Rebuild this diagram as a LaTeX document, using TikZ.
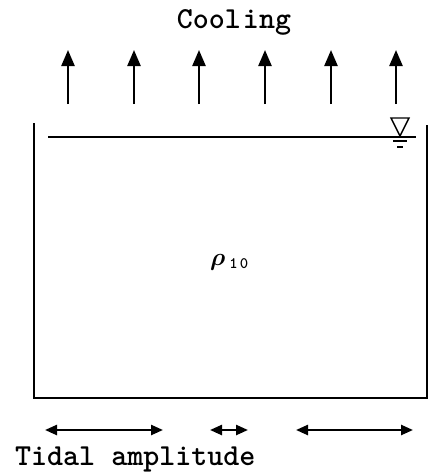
\documentclass[tikz,border=0pt]{standalone}
\usepackage{amsmath,amssymb}
\usepackage{bm}
\usetikzlibrary{arrows.meta}

\begin{document}
\begin{tikzpicture}[
    x=1pt, y=-1pt,
    >={Triangle[length=16pt,width=13pt]},
    line width=2.4pt,
    every node/.style={font=\ttfamily\bfseries\fontsize{30.5}{32}\selectfont, inner sep=0pt}
]
\useasboundingbox (0,0) rectangle (429,474);

% Tank walls and water surface
\coordinate (tl) at (34,123);
\coordinate (bl) at (34,398);
\coordinate (br) at (427,398);
\coordinate (tr) at (427,125);
\draw (tl) -- (bl) -- (br) -- (tr);
\coordinate (wl) at (48,137);
\coordinate (wr) at (416,137);
\draw (wl) -- (wr);

% Water level mark
\draw[line width=1.4pt] (391,118) -- (409,118) -- (400,136) -- cycle;
\draw[line width=1.4pt] (393,141) -- (407,141);
\draw[line width=1.2pt] (397,147) -- (403,147);

% Cooling
\node (cool) at (234,22) {Cool\kern2pt ing};
\foreach \i/\x in {1/68,2/134,3/199,4/265,5/331,6/396}{
    \coordinate (ct\i) at (\x,104);
    \coordinate (ch\i) at (\x,50);
    \draw[->] (ct\i) -- (ch\i);
}

% Density
\node[anchor=west] (rho) at (209,262) {{\fontsize{32}{32}\selectfont$\bm{\rho}$}\kern4pt\raisebox{-3pt}{\fontsize{16}{16}\selectfont 1\kern2pt 0}};

% Tidal amplitude
\coordinate (a1) at (45,430);
\coordinate (b1) at (163,430);
\coordinate (a2) at (210,430);
\coordinate (b2) at (248,430);
\coordinate (a3) at (296,430);
\coordinate (b3) at (413,430);
\draw[{Triangle[length=12pt,width=10pt]}-{Triangle[length=12pt,width=10pt]}] (a1) -- (b1);
\draw[{Triangle[length=12pt,width=10pt]}-{Triangle[length=12pt,width=10pt]}] (a2) -- (b2);
\draw[{Triangle[length=12pt,width=10pt]}-{Triangle[length=12pt,width=10pt]}] (a3) -- (b3);
\node[anchor=base west] (tidal) at (14,465) {Tidal amplitude};

\end{tikzpicture}
\end{document}
